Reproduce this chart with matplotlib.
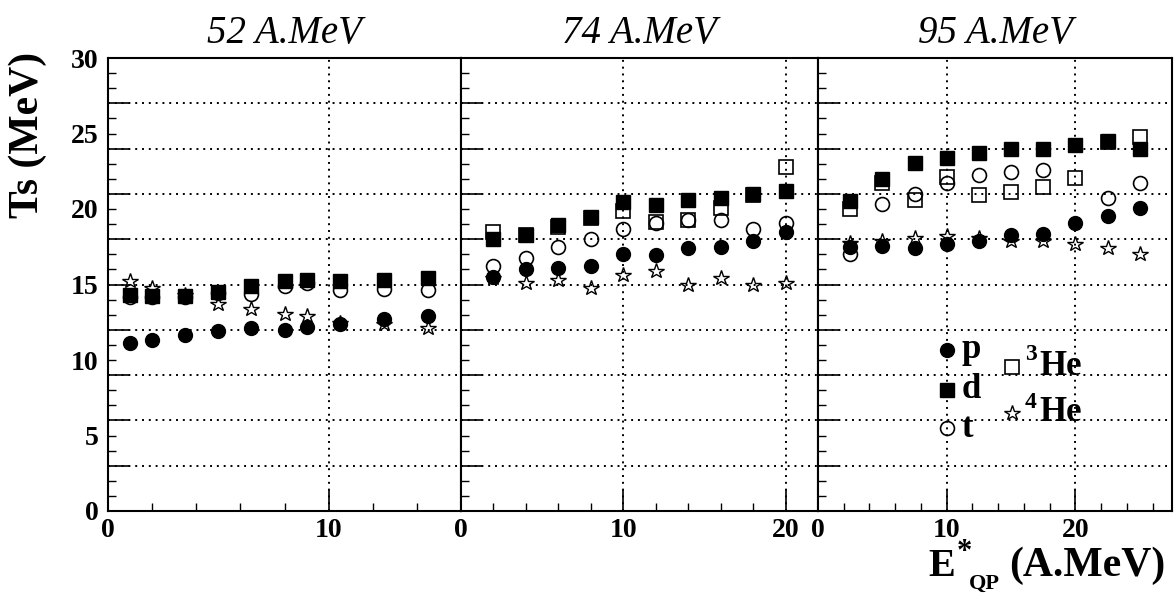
import numpy as np
import matplotlib
matplotlib.use("Agg")
import matplotlib.pyplot as plt
from matplotlib.ticker import MultipleLocator

plt.rcParams['font.family'] = ['Liberation Serif', 'DejaVu Serif']

# ===== data =====
titles = ["52 A.MeV", "74 A.MeV", "95 A.MeV"]
xmax = [16, 22, 27.5]
xtick_sets = [[0, 10], [0, 10, 20], [0, 10, 20]]

# 52 A.MeV
x1 = [1, 2, 3.5, 5, 6.5, 8, 9, 10.5, 12.5, 14.5]
p1 = [11.15, 11.35, 11.65, 11.95, 12.15, 12.0, 12.2, 12.4, 12.7, 12.9]
d1 = [14.3, 14.25, 14.25, 14.5, 14.9, 15.2, 15.3, 15.2, 15.3, 15.4]
t1 = [14.2, 14.15, 14.2, 14.45, 14.4, 14.9, 15.1, 14.65, 14.7, 14.65]
he4_1 = [15.2, 14.75, 14.3, 13.7, 13.4, 13.05, 12.9, 12.45, 12.4, 12.1]

# 74 A.MeV
x2 = [2, 4, 6, 8, 10, 12, 14, 16, 18, 20]
p2 = [15.5, 16.0, 16.1, 16.2, 17.05, 16.95, 17.4, 17.5, 17.85, 18.5]
d2 = [18.0, 18.3, 18.95, 19.5, 20.45, 20.25, 20.6, 20.7, 21.0, 21.2]
t2 = [16.2, 16.75, 17.5, 18.0, 18.65, 19.1, 19.25, 19.3, 18.7, 19.05]
he3_2 = [18.5, 18.3, 18.8, 19.4, 19.9, 19.15, 19.3, 20.05, 20.9, 22.8]
he4_2 = [15.4, 15.1, 15.3, 14.75, 15.65, 15.9, 14.95, 15.4, 14.95, 15.1]

# 95 A.MeV
x3 = [2.5, 5, 7.5, 10, 12.5, 15, 17.5, 20, 22.5, 25]
p3 = [17.5, 17.55, 17.45, 17.7, 17.9, 18.3, 18.35, 19.1, 19.55, 20.05]
d3 = [20.5, 22.0, 23.05, 23.4, 23.7, 23.95, 24.0, 24.25, 24.5, 24.0]
t3 = [17.05, 20.35, 21.0, 21.7, 22.25, 22.45, 22.6, np.nan, 20.75, 21.7]
he3_3 = [20.0, 21.7, 20.6, 22.15, 20.95, 21.15, 21.45, 22.05, 24.45, 24.8]
he4_3 = [17.75, 17.85, 18.05, 18.2, 18.05, 17.85, 17.85, 17.7, 17.4, 17.0]

panels = [
    dict(x=x1, p=p1, d=d1, t=t1, he3=None, he4=he4_1),
    dict(x=x2, p=p2, d=d2, t=t2, he3=he3_2, he4=he4_2),
    dict(x=x3, p=p3, d=d3, t=t3, he3=he3_3, he4=he4_3),
]

# ===== layout =====
W, H = 1176, 599
edges = [108, 461, 818, 1172]
top_px, bot_px = 58, 511

fig = plt.figure(figsize=(W / 100, H / 100), dpi=100)

dot = (0, (1, 2.5))
styles = {
    'he4': dict(marker='*', ms=11.5, mfc='none', mec='black', mew=1.0),
    't': dict(marker='o', ms=10, mfc='none', mec='black', mew=1.2),
    'he3': dict(marker='s', ms=9.5, mfc='none', mec='black', mew=1.2),
    'p': dict(marker='o', ms=10, mfc='black', mec='black'),
    'd': dict(marker='s', ms=9.5, mfc='black', mec='black'),
}
lab_font = dict(family='Liberation Serif', weight='bold', size=20)

axes = []
for i in range(3):
    rect = [edges[i] / W, 1 - bot_px / H, (edges[i + 1] - edges[i]) / W, (bot_px - top_px) / H]
    ax = fig.add_axes(rect)
    axes.append(ax)
    pan = panels[i]
    for key in ['he4', 't', 'he3', 'p', 'd']:
        if pan[key] is not None:
            ax.plot(pan['x'], pan[key], ls='none', **styles[key])

    ax.set_xlim(0, xmax[i])
    ax.set_ylim(0, 30)

    # y: long ticks + grid every 3, short every 1
    ax.yaxis.set_major_locator(MultipleLocator(3))
    ax.yaxis.set_minor_locator(MultipleLocator(1))
    ax.set_yticklabels([])
    # x: long ticks + grid every 10, short every 2
    ax.set_xticks(xtick_sets[i])
    ax.xaxis.set_minor_locator(MultipleLocator(2))
    ax.set_xticklabels([str(v) for v in xtick_sets[i]], fontdict=lab_font)
    ax.tick_params(which='major', direction='in', length=15, width=1.2, pad=5)
    ax.tick_params(which='minor', direction='in', length=6, width=1.0)
    ax.grid(which='major', color='black', linestyle=dot, linewidth=1.4)
    for s in ax.spines.values():
        s.set_linewidth(1.5)

    ax.set_title(titles[i], fontsize=28, style='italic', family='Liberation Serif', pad=11)

# y labels every 5 on the left panel
sec = axes[0].secondary_yaxis('left')
sec.set_yticks(range(0, 31, 5))
sec.set_yticklabels([str(v) for v in range(0, 31, 5)], fontdict=lab_font)
sec.tick_params(length=0, pad=7)
sec.spines['left'].set_visible(False)

fig.text(28 / W, 1 - 135 / H, "Ts (MeV)", rotation=90, ha='center', va='center',
         fontsize=30, weight='bold')

# x label  E*_QP (A.MeV)
fig.text(928 / W, 1 - 576 / H, "E", fontsize=29, weight='bold', va='baseline')
fig.text(957 / W, 1 - 560 / H, "*", fontsize=22, weight='bold', va='baseline')
fig.text(969 / W, 1 - 589 / H, "QP", fontsize=16, weight='bold', va='baseline')
fig.text(1009 / W, 1 - 576 / H, "(A.MeV)", fontsize=30, weight='bold', va='baseline')

# legend in the 95 A.MeV panel
ax3 = axes[2]
tr = ax3.transAxes
leg_font = dict(fontsize=25, weight='bold', va='baseline', transform=tr)
ax3.plot([0.364], [0.355], transform=tr, **styles['p'])
ax3.plot([0.364], [0.267], transform=tr, **styles['d'])
ax3.plot([0.364], [0.183], transform=tr, **styles['t'])
ax3.plot([0.548], [0.318], transform=tr, **styles['he3'])
ax3.plot([0.548], [0.216], transform=tr, **styles['he4'])
ax3.text(0.405, 0.338, "p", **leg_font)
ax3.text(0.405, 0.249, "d", **leg_font)
ax3.text(0.405, 0.163, "t", **leg_font)
ax3.text(0.585, 0.333, "3", fontsize=17, weight='bold', va='baseline', transform=tr)
ax3.text(0.625, 0.300, "He", **leg_font)
ax3.text(0.585, 0.227, "4", fontsize=17, weight='bold', va='baseline', transform=tr)
ax3.text(0.625, 0.199, "He", **leg_font)

fig.savefig("out.png", dpi=100)
